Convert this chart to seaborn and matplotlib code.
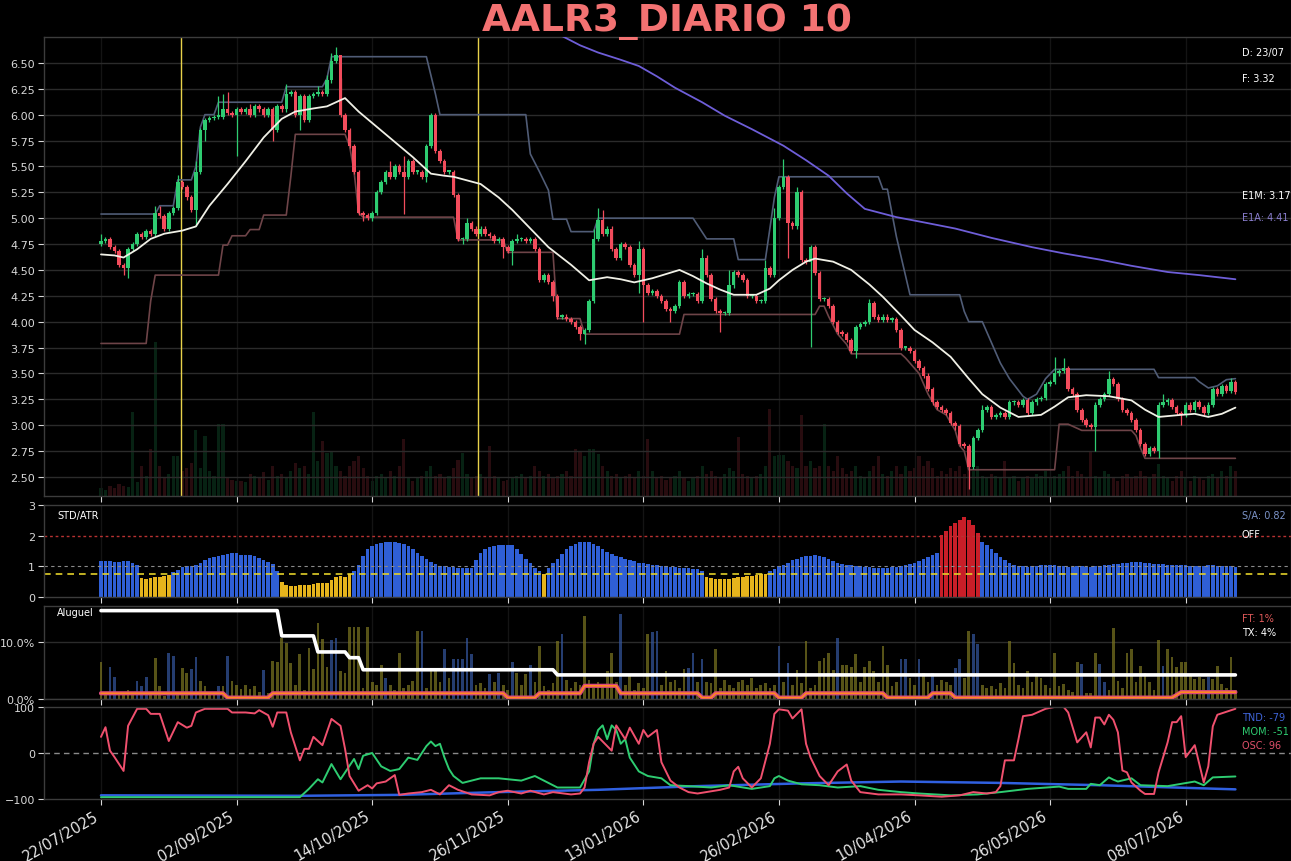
import matplotlib
matplotlib.use("Agg")
import matplotlib.pyplot as plt
import numpy as np
import seaborn as sns

# ---------------- data ----------------
# daily closes, index 0 = 22/07/2025
closes = [
    4.78, 4.80, 4.72, 4.68, 4.55, 4.52, 4.70, 4.75, 4.85, 4.82,
    4.88, 4.85, 5.05, 5.02, 4.90, 5.05, 5.10, 5.35, 5.30, 5.20,
    5.08, 5.45, 5.85, 5.95, 5.97, 5.98, 5.98, 6.05, 6.02, 6.00,
    6.05, 6.03, 6.05, 6.00, 6.08, 6.05, 6.00, 6.05, 5.85, 6.08,
    6.05, 6.20, 6.22, 6.00, 6.18, 5.95, 6.18, 6.20, 6.22, 6.20,
    6.33, 6.52, 6.58, 6.00, 5.85, 5.70, 5.45, 5.05, 5.03, 5.00,
    5.05, 5.25, 5.35, 5.45, 5.40, 5.50, 5.45, 5.40, 5.55, 5.45,
    5.45, 5.40, 5.70, 6.00, 5.65, 5.55, 5.45, 5.45, 5.22, 4.80,
    4.80, 4.95, 4.90, 4.85, 4.90, 4.85, 4.83, 4.78, 4.80, 4.72,
    4.68, 4.78, 4.80, 4.80, 4.78, 4.80, 4.70, 4.40, 4.45, 4.38,
    4.25, 4.05, 4.05, 4.03, 4.00, 3.95, 3.88, 3.92, 4.20, 4.80,
    4.98, 4.85, 4.90, 4.70, 4.62, 4.75, 4.72, 4.55, 4.45, 4.70,
    4.35, 4.28, 4.30, 4.25, 4.20, 4.12, 4.10, 4.15, 4.38, 4.25,
    4.27, 4.27, 4.20, 4.62, 4.45, 4.22, 4.10, 4.08, 4.08, 4.35,
    4.48, 4.45, 4.40, 4.25, 4.25, 4.20, 4.20, 4.52, 4.45, 5.00,
    5.30, 5.40, 4.95, 4.92, 5.25, 4.60, 4.58, 4.72, 4.47, 4.22,
    4.22, 4.15, 4.00, 3.90, 3.88, 3.82, 3.72, 3.95, 3.98, 4.00,
    4.18, 4.05, 4.02, 4.05, 4.02, 4.03, 3.92, 3.75, 3.75, 3.72,
    3.62, 3.55, 3.48, 3.35, 3.22, 3.18, 3.15, 3.12, 3.02, 2.99,
    2.82, 2.80, 2.60, 2.88, 2.95, 3.15, 3.18, 3.08, 3.10, 3.12,
    3.08, 3.22, 3.22, 3.20, 3.24, 3.12, 3.22, 3.25, 3.26, 3.40,
    3.42, 3.50, 3.52, 3.55, 3.35, 3.30, 3.15, 3.05, 3.00, 2.98,
    3.20, 3.25, 3.30, 3.45, 3.40, 3.25, 3.15, 3.12, 3.05, 2.95,
    2.82, 2.72, 2.78, 2.75, 3.20, 3.22, 3.24, 3.18, 3.12, 3.10,
    3.20, 3.15, 3.22, 3.18, 3.12, 3.20, 3.35, 3.30, 3.38, 3.33,
    3.42, 3.32,
]
first_open = 4.75
# the longer wicks that stand out
wick_hi = {0: 4.85, 12: 5.12, 13: 5.12, 17: 5.42, 21: 5.55, 26: 6.18, 27: 6.20,
           28: 6.22, 33: 6.10, 41: 6.30, 48: 6.28, 50: 6.38, 51: 6.60, 52: 6.65,
           53: 6.35, 64: 5.55, 67: 5.60, 73: 6.02, 81: 5.00, 92: 4.85, 109: 4.90,
           110: 5.10, 111: 5.08, 119: 4.78, 133: 4.70, 139: 4.50, 147: 4.60,
           149: 5.10, 151: 5.57, 154: 5.30, 170: 4.22, 195: 3.20, 211: 3.66,
           213: 3.65, 223: 3.52, 235: 3.30, 250: 3.46}
wick_lo = {5: 4.45, 6: 4.42, 21: 4.92, 23: 5.75, 30: 5.60, 38: 5.75, 44: 5.85,
           58: 4.97, 60: 4.97, 67: 5.04, 72: 5.35, 80: 4.75, 89: 4.62, 91: 4.55,
           100: 4.20, 106: 3.82, 107: 3.78, 119: 4.28, 120: 4.00, 126: 4.00,
           137: 3.90, 152: 4.62, 157: 3.76, 167: 3.65, 189: 2.95, 192: 2.38,
           220: 2.75, 234: 2.68, 239: 3.00}

volume = [
    8, 6, 10, 8, 12, 10, 9, 84, 14, 30,
    20, 47, 154, 30, 18, 22, 40, 40, 25, 28,
    33, 66, 28, 60, 25, 20, 72, 72, 18, 16,
    15, 15, 14, 22, 20, 18, 24, 16, 30, 20,
    22, 18, 25, 33, 28, 30, 22, 84, 35, 55,
    43, 45, 30, 25, 20, 30, 35, 40, 28, 20,
    15, 20, 22, 18, 25, 20, 30, 57, 18, 15,
    18, 20, 25, 30, 20, 22, 18, 20, 28, 36,
    43, 22, 18, 20, 22, 18, 50, 20, 18, 15,
    16, 18, 20, 22, 18, 20, 30, 25, 20, 22,
    18, 20, 22, 25, 20, 47, 45, 40, 47, 47,
    42, 30, 25, 20, 22, 18, 20, 22, 18, 25,
    20, 57, 25, 18, 20, 16, 18, 20, 25, 18,
    15, 18, 20, 30, 22, 25, 20, 18, 22, 28,
    25, 59, 22, 20, 18, 20, 22, 30, 87, 40,
    41, 41, 35, 30, 28, 81, 30, 35, 28, 30,
    72, 30, 25, 40, 28, 22, 25, 30, 20, 18,
    25, 30, 40, 22, 20, 25, 30, 22, 30, 25,
    28, 40, 30, 35, 28, 20, 25, 22, 28, 25,
    30, 22, 39, 25, 30, 20, 18, 22, 20, 18,
    35, 18, 20, 15, 18, 20, 18, 22, 20, 25,
    18, 20, 22, 25, 30, 20, 25, 22, 18, 45,
    20, 18, 25, 22, 18, 15, 20, 22, 18, 20,
    25, 20, 18, 22, 32, 20, 18, 15, 20, 25,
    18, 15, 20, 18, 16, 20, 22, 18, 25, 20,
    30, 25,
]

# moving averages: (day, value) points
e1m_pts = [(0, 4.65), (3, 4.64), (5, 4.62), (8, 4.70), (11, 4.80), (14, 4.85),
           (18, 4.88), (21, 4.92), (24, 5.12), (28, 5.33), (32, 5.55), (36, 5.78),
           (40, 5.96), (43, 6.03), (47, 6.06), (50, 6.08), (52, 6.12), (54, 6.16),
           (57, 6.03), (60, 5.92), (63, 5.81), (66, 5.70), (69, 5.59), (73, 5.43),
           (76, 5.41), (78, 5.40), (84, 5.33), (88, 5.20), (91, 5.08), (95, 4.90),
           (99, 4.72), (104, 4.55), (108, 4.40), (112, 4.43), (115, 4.41),
           (118, 4.38), (122, 4.42), (125, 4.46), (128, 4.50), (131, 4.44),
           (134, 4.37), (137, 4.31), (140, 4.26), (145, 4.26), (148, 4.32),
           (150, 4.40), (153, 4.50), (156, 4.58), (158, 4.61), (162, 4.58),
           (166, 4.50), (170, 4.36), (173, 4.24), (177, 4.06), (180, 3.92),
           (184, 3.80), (188, 3.66), (192, 3.45), (195, 3.30), (199, 3.17),
           (203, 3.08), (208, 3.10), (211, 3.18), (214, 3.27), (218, 3.29),
           (223, 3.28), (228, 3.24), (231, 3.15), (234, 3.08), (239, 3.10),
           (242, 3.11), (245, 3.08), (248, 3.11), (251, 3.17)]
e1a_pts = [(100, 6.85), (102, 6.76), (106, 6.67), (110, 6.60), (115, 6.53),
           (119, 6.47), (123, 6.37), (127, 6.26), (133, 6.12), (138, 5.99),
           (144, 5.86), (151, 5.70), (156, 5.56), (161, 5.41), (165, 5.24),
           (169, 5.09), (176, 5.01), (182, 4.96), (189, 4.90), (197, 4.81),
           (206, 4.72), (213, 4.66), (221, 4.60), (228, 4.54), (236, 4.48),
           (243, 4.45), (251, 4.41)]

# channel bands
upper_pts = [(0, 5.04), (12, 5.04), (13, 5.12), (16, 5.12), (17, 5.37), (20, 5.37),
             (21, 5.50), (22, 5.88), (23, 6.00), (25, 6.00), (26, 6.12), (40, 6.12),
             (41, 6.27), (49, 6.27), (50, 6.35), (51, 6.56), (72, 6.56), (74, 6.20),
             (75, 6.00), (94, 6.00), (95, 5.62), (97, 5.45), (99, 5.27), (100, 4.99),
             (103, 4.99), (104, 4.87), (109, 4.87), (110, 5.00), (131, 5.00),
             (134, 4.80), (140, 4.80), (141, 4.60), (147, 4.60), (148, 4.90),
             (149, 5.20), (150, 5.40), (172, 5.40), (173, 5.28), (174, 5.28),
             (176, 4.82), (179, 4.26), (190, 4.26), (191, 4.10), (192, 4.00),
             (195, 4.00), (197, 3.80), (199, 3.60), (201, 3.45), (204, 3.28),
             (205, 3.25), (207, 3.30), (209, 3.45), (211, 3.54), (233, 3.54),
             (234, 3.46), (242, 3.46), (243, 3.42), (245, 3.36), (247, 3.38),
             (249, 3.44), (251, 3.45)]
lower_pts = [(0, 3.79), (10, 3.79), (11, 4.20), (12, 4.45), (26, 4.45), (27, 4.74),
             (28, 4.74), (29, 4.83), (32, 4.83), (33, 4.89), (35, 4.89), (36, 5.03),
             (41, 5.03), (42, 5.40), (43, 5.81), (54, 5.81), (55, 5.70), (56, 5.45),
             (57, 5.05), (58, 5.01), (78, 5.01), (79, 4.79), (89, 4.79), (90, 4.67),
             (100, 4.67), (101, 4.03), (106, 4.03), (107, 3.88), (128, 3.88),
             (129, 4.07), (158, 4.07), (159, 4.15), (160, 4.15), (161, 4.05),
             (163, 3.88), (165, 3.78), (166, 3.69), (177, 3.69), (178, 3.65),
             (181, 3.50), (183, 3.30), (185, 3.15), (187, 3.10), (189, 2.95),
             (190, 2.80), (191, 2.75), (192, 2.57), (211, 2.57), (212, 3.01),
             (214, 3.01), (215, 2.99), (217, 2.95), (228, 2.95), (229, 2.90),
             (230, 2.78), (231, 2.68), (251, 2.68)]
signal_days = [17.7, 83.4]

# STD/ATR ratio
std_atr = [
    1.18, 1.17, 1.16, 1.15, 1.15, 1.16, 1.17, 1.12, 1.03, 0.62,
    0.60, 0.62, 0.64, 0.66, 0.70, 0.72, 0.80, 0.88, 0.98, 1.02,
    1.02, 1.05, 1.12, 1.22, 1.28, 1.30, 1.35, 1.38, 1.40, 1.45,
    1.42, 1.38, 1.36, 1.36, 1.35, 1.28, 1.20, 1.15, 1.08, 0.85,
    0.50, 0.38, 0.37, 0.37, 0.38, 0.38, 0.40, 0.42, 0.44, 0.45,
    0.47, 0.55, 0.65, 0.70, 0.65, 0.75, 0.85, 1.05, 1.35, 1.55,
    1.65, 1.72, 1.75, 1.78, 1.80, 1.78, 1.75, 1.72, 1.65, 1.55,
    1.45, 1.35, 1.25, 1.15, 1.08, 1.02, 1.00, 0.98, 0.97, 0.96,
    0.95, 0.95, 0.96, 1.20, 1.45, 1.55, 1.62, 1.66, 1.68, 1.70,
    1.70, 1.68, 1.55, 1.40, 1.25, 1.10, 0.95, 0.85, 0.75, 0.95,
    1.10, 1.25, 1.40, 1.55, 1.65, 1.72, 1.78, 1.80, 1.78, 1.72,
    1.65, 1.55, 1.48, 1.40, 1.35, 1.30, 1.25, 1.20, 1.16, 1.12,
    1.10, 1.08, 1.05, 1.03, 1.00, 1.00, 0.98, 0.97, 0.96, 0.95,
    0.94, 0.92, 0.90, 0.86, 0.65, 0.62, 0.60, 0.60, 0.58, 0.60,
    0.62, 0.64, 0.66, 0.68, 0.70, 0.72, 0.74, 0.76, 0.85, 0.92,
    1.00, 1.05, 1.12, 1.20, 1.25, 1.30, 1.33, 1.35, 1.36, 1.35,
    1.30, 1.25, 1.18, 1.12, 1.08, 1.05, 1.03, 1.00, 1.00, 0.98,
    0.97, 0.96, 0.95, 0.95, 0.96, 0.97, 0.98, 1.00, 1.03, 1.08,
    1.12, 1.18, 1.25, 1.32, 1.38, 1.45, 2.02, 2.15, 2.30, 2.42,
    2.52, 2.60, 2.50, 2.35, 2.10, 1.80, 1.70, 1.55, 1.42, 1.30,
    1.20, 1.10, 1.05, 1.00, 1.00, 0.98, 1.00, 1.02, 1.03, 1.05,
    1.05, 1.04, 1.02, 1.00, 0.98, 0.98, 1.00, 1.00, 0.99, 0.98,
    1.00, 1.02, 1.03, 1.05, 1.06, 1.08, 1.10, 1.12, 1.13, 1.14,
    1.13, 1.12, 1.10, 1.08, 1.07, 1.06, 1.05, 1.05, 1.04, 1.03,
    1.03, 1.02, 1.02, 1.01, 1.02, 1.03, 1.04, 1.02, 1.01, 1.00,
    1.00, 0.99,
]

# rent ("Aluguel") panel, in %
aluguel = [
    6.5, 1.0, 5.5, 3.9, 0.8, 1.2, 1.6, 0.8, 3.2, 2.3,
    3.9, 1.0, 7.1, 2.3, 0.6, 8.1, 7.5, 1.0, 5.4, 4.6,
    5.2, 7.3, 3.2, 2.3, 0.8, 1.0, 2.3, 2.3, 7.5, 3.2,
    2.5, 1.8, 2.5, 1.8, 2.3, 1.2, 5.0, 1.0, 6.7, 6.5,
    10.6, 9.7, 6.2, 2.5, 7.9, 1.5, 8.9, 5.3, 13.3, 10.5,
    5.5, 10.3, 10.6, 4.9, 4.5, 12.5, 12.5, 12.5, 2.0, 12.5,
    3.0, 2.5, 6.0, 3.7, 2.5, 1.5, 8.1, 2.0, 2.5, 3.1,
    11.9, 11.9, 2.0, 5.4, 5.1, 3.0, 8.7, 3.7, 6.9, 6.9,
    6.9, 10.7, 7.8, 2.5, 2.8, 2.0, 4.3, 3.0, 4.6, 2.5,
    1.5, 6.4, 4.6, 2.5, 4.3, 6.0, 3.0, 9.2, 2.2, 1.5,
    2.8, 10.1, 11.3, 3.4, 2.0, 3.0, 2.5, 14.5, 3.4, 2.0,
    3.0, 2.5, 4.9, 8.1, 3.0, 14.8, 2.5, 4.0, 1.5, 2.8,
    2.0, 11.3, 11.6, 11.9, 2.5, 4.9, 3.0, 3.4, 2.0, 5.3,
    5.4, 8.1, 3.0, 6.9, 3.0, 2.8, 8.7, 2.0, 3.4, 2.5,
    2.0, 3.0, 3.4, 2.5, 3.7, 2.0, 2.5, 2.8, 2.0, 2.5,
    9.2, 3.0, 6.3, 2.5, 5.1, 2.8, 10.1, 2.0, 2.5, 6.6,
    7.2, 8.1, 5.1, 10.7, 6.0, 6.0, 5.6, 7.8, 3.0, 5.6,
    6.6, 4.9, 3.0, 9.2, 6.0, 2.2, 3.0, 6.9, 6.9, 3.7,
    2.5, 6.9, 4.6, 3.0, 4.6, 2.5, 3.4, 3.0, 2.5, 5.4,
    6.9, 3.7, 11.9, 11.3, 9.5, 2.5, 2.0, 2.2, 1.8, 2.8,
    2.0, 10.1, 6.3, 2.5, 2.0, 4.9, 3.0, 4.6, 3.7, 2.5,
    2.0, 8.1, 2.3, 2.6, 1.5, 1.2, 6.4, 6.1, 1.0, 1.0,
    8.1, 6.1, 2.9, 1.5, 12.3, 3.2, 2.0, 8.1, 8.8, 2.9,
    5.8, 4.5, 2.9, 1.5, 10.2, 5.8, 8.8, 7.4, 5.6, 6.4,
    6.4, 4.2, 3.5, 3.8, 3.5, 3.8, 3.5, 5.8, 2.6, 2.0,
    7.4, 1.5,
]
aluguel_blue = [2, 3, 8, 9, 10, 15, 16, 20, 21, 26, 28, 36, 51, 52, 63, 71, 76, 78,
                79, 80, 81, 82, 86, 88, 91, 95, 102, 115, 122, 123, 130, 131, 133,
                150, 152, 163, 177, 178, 181, 184, 189, 190, 193, 194, 217, 221,
                222, 235, 245]
tx_pts = [(0, 15.4), (39, 15.4), (40, 11.0), (47, 11.0), (48, 8.2), (54, 8.2),
          (55, 7.2), (57, 7.2), (58, 5.1), (100, 5.1), (101, 4.2), (251, 4.2)]
ft_pts = [(0, 1.0), (27, 1.0), (28, 0.25), (37, 0.25), (38, 1.0), (89, 1.0),
          (90, 0.25), (96, 0.25), (97, 1.0), (106, 1.0), (107, 2.3), (114, 2.3),
          (115, 1.0), (132, 1.0), (133, 0.25), (135, 0.25), (136, 1.0), (149, 1.0),
          (150, 0.25), (155, 0.25), (156, 1.0), (173, 1.0), (174, 0.25), (183, 0.25),
          (184, 1.0), (188, 1.0), (189, 0.25), (237, 0.25), (239, 1.2), (251, 1.2)]

# oscillators
osc_pts = [(0, 35), (1, 56), (2, 5), (3, -9), (5, -39), (6, 59), (8, 96), (10, 96),
           (11, 85), (13, 85), (15, 26), (17, 67), (19, 55), (20, 59), (21, 88),
           (23, 96), (28, 96), (29, 88), (32, 88), (34, 86), (35, 93), (37, 82),
           (38, 57), (39, 88), (41, 88), (42, 45), (44, -16), (45, 9), (46, 9),
           (47, 35), (49, 17), (51, 74), (53, 59), (54, 9), (55, -50), (57, -82),
           (59, -70), (60, -77), (61, -66), (63, -62), (65, -48), (66, -91),
           (68, -88), (71, -85), (73, -80), (75, -90), (77, -70), (79, -80),
           (82, -90), (86, -92), (88, -85), (90, -82), (93, -88), (95, -82),
           (98, -90), (100, -85), (104, -90), (106, -88), (107, -75), (108, -20),
           (109, 20), (110, 35), (111, 25), (113, 5), (114, 60), (116, 30),
           (117, 55), (119, 20), (120, 50), (121, 35), (123, 50), (124, -20),
           (126, -60), (128, -75), (130, -85), (132, -88), (137, -80), (139, -75),
           (140, -40), (141, -30), (142, -55), (144, -75), (146, -55), (148, 20),
           (149, 85), (150, 95), (152, 92), (153, 75), (155, 95), (156, 20),
           (157, -10), (158, -30), (159, -50), (161, -70), (163, -40), (165, -25),
           (166, -60), (168, -85), (172, -90), (177, -90), (181, -92), (186, -95),
           (190, -92), (193, -85), (196, -88), (198, -85), (199, -72), (200, -16),
           (202, -16), (203, 30), (204, 80), (206, 83), (209, 96), (211, 100),
           (213, 100), (214, 88), (216, 23), (218, 45), (219, 12), (220, 77),
           (221, 77), (222, 62), (223, 83), (224, 72), (225, 45), (226, -38),
           (227, -42), (228, -64), (230, -82), (231, -89), (233, -89), (234, -42),
           (236, 23), (237, 67), (238, 67), (239, 80), (240, -9), (242, 17),
           (244, -64), (245, -29), (246, 58), (247, 83), (251, 96)]
mom_pts = [(0, -96), (44, -96), (46, -78), (48, -57), (49, -64), (51, -24),
           (53, -57), (56, -13), (57, -35), (58, -6), (60, 0), (62, -29), (64, -39),
           (66, -35), (68, -10), (70, -15), (72, 15), (73, 25), (74, 15), (75, 20),
           (76, -10), (77, -35), (78, -50), (80, -65), (84, -55), (88, -55),
           (93, -60), (96, -50), (98, -60), (101, -75), (106, -75), (108, -40),
           (109, 20), (110, 50), (111, 60), (112, 30), (113, 60), (114, 50),
           (115, 20), (116, 30), (117, -10), (119, -40), (121, -50), (124, -55),
           (126, -70), (130, -72), (135, -75), (139, -70), (144, -78), (148, -72),
           (149, -55), (150, -50), (152, -60), (155, -68), (159, -70), (163, -75),
           (168, -72), (172, -80), (177, -85), (181, -88), (188, -92), (194, -90),
           (199, -85), (205, -78), (212, -73), (214, -78), (218, -78), (219, -67),
           (221, -70), (223, -53), (224, -58), (225, -62), (228, -55), (230, -70),
           (236, -72), (239, -67), (242, -62), (244, -70), (246, -53), (251, -51)]
tnd_pts = [(0, -92), (44, -93), (66, -91), (88, -85), (110, -80), (132, -72),
           (155, -66), (177, -62), (199, -65), (221, -70), (251, -79)]

tick_pos = [0, 30, 60, 90, 120, 150, 180, 210, 240]
tick_labels = ['22/07/2025', '02/09/2025', '14/10/2025', '26/11/2025', '13/01/2026',
               '26/02/2026', '10/04/2026', '26/05/2026', '08/07/2026']


def xy(pts):
    return [p[0] for p in pts], [p[1] for p in pts]


# ---------------- plotting ----------------
sns.set_theme(style="dark")
plt.rcParams['font.family'] = ['DejaVu Sans']

BG = '#000000'
GRID = '#2b2b2b'
TXT = '#d8d8d8'
GREEN = '#2ecc71'
RED = '#f24c5c'
FS = 7

fig = plt.figure(figsize=(12.91, 8.62), dpi=100, facecolor=BG)
L, W = 0.0341, 0.9659
ax = fig.add_axes([L, 0.4234, W, 0.5325])
ax_std = fig.add_axes([L, 0.3063, W, 0.1067], sharex=ax)
ax_alu = fig.add_axes([L, 0.1879, W, 0.1079], sharex=ax)
ax_osc = fig.add_axes([L, 0.0719, W, 0.1068], sharex=ax)

n = len(closes)
x = np.arange(n)
c = np.array(closes)
o = np.array([first_open] + closes[:-1])
up = c >= o
colors = np.where(up, GREEN, RED)

# volume on a hidden twin axis, behind the candles
axv = ax.twinx()
axv.bar(x, volume, width=0.7, color=colors, alpha=0.17, linewidth=0)
axv.set_ylim(0, 459)
axv.set_yticks([])
axv.set_facecolor(BG)
for s in axv.spines.values():
    s.set_visible(False)
ax.set_zorder(axv.get_zorder() + 1)
ax.patch.set_visible(False)

# candles
hi = np.maximum(o, c) + 0.02
lo = np.minimum(o, c) - 0.02
for k, v in wick_hi.items():
    hi[k] = v
for k, v in wick_lo.items():
    lo[k] = v
ax.vlines(x, lo, hi, colors=colors, linewidth=0.9, zorder=3)
body = np.maximum(np.abs(c - o), 0.012)
ax.bar(x, body, bottom=np.minimum(o, c), width=0.78, color=colors, linewidth=0, zorder=4)

for pts, col, lw, z in [(upper_pts, '#505c76', 1.2, 2), (lower_pts, '#6e4448', 1.2, 2),
                        (e1a_pts, '#6e5ed8', 1.3, 5), (e1m_pts, '#f0f0e6', 1.3, 5)]:
    px, py = xy(pts)
    sns.lineplot(x=px, y=py, ax=ax, color=col, linewidth=lw, zorder=z)
for d in signal_days:
    ax.axvline(d, color='#e8d24a', linewidth=1.0, zorder=1)

ax.set_ylim(2.316, 6.75)
yt = np.arange(2.5, 6.51, 0.25)
ax.set_yticks(yt)
ax.set_yticklabels([f'{v:.2f}' for v in yt])
ax.set_xlim(-12.6, 263.3)

tx = 252.4
ax.text(tx, 6.61, 'D: 23/07', color='white', fontsize=FS, va='center')
ax.text(tx, 6.35, 'F: 3.32', color='white', fontsize=FS, va='center')
ax.text(tx, 5.22, 'E1M: 3.17', color='white', fontsize=FS, va='center')
ax.text(tx, 5.01, 'E1A: 4.41', color='#8b7fd0', fontsize=FS, va='center')

# STD/ATR panel
std = np.array(std_atr)
std_colors = np.where(std >= 2.0, '#c81e28', np.where(std < 0.78, '#e6b41c', '#2f5fd6'))
ax_std.bar(x, std, width=0.8, color=std_colors, linewidth=0)
ax_std.axhline(2.0, color='#b83232', linewidth=1.0, linestyle=(0, (2, 2)))
ax_std.axhline(1.0, color='#8a8a8a', linewidth=0.8, linestyle=(0, (3, 3)))
ax_std.axhline(0.75, color='#e2d02a', linewidth=1.2, linestyle=(0, (4, 3)))
ax_std.set_ylim(0, 3)
ax_std.set_yticks([0, 1, 2, 3])
ax_std.text(-9.7, 2.67, 'STD/ATR', color='white', fontsize=FS, va='center')
ax_std.text(tx, 2.67, 'S/A: 0.82', color='#7b93c8', fontsize=FS, va='center')
ax_std.text(tx, 2.05, 'OFF', color='white', fontsize=FS, va='center')

# Aluguel panel
alu_colors = ['#34559c' if i in aluguel_blue else '#7a7420' for i in range(n)]
ax_alu.bar(x, aluguel, width=0.6, color=alu_colors, alpha=0.72, linewidth=0)
px, py = xy(tx_pts)
sns.lineplot(x=px, y=py, ax=ax_alu, color='white', linewidth=2.6, zorder=4)
px, py = xy(ft_pts)
sns.lineplot(x=px, y=py, ax=ax_alu, color='#d9477e', linewidth=3.0, zorder=4)
sns.lineplot(x=px, y=py, ax=ax_alu, color='#ff8a1e', linewidth=1.2, zorder=5)
ax_alu.set_ylim(0, 16.2)
ax_alu.set_yticks([0, 10])
ax_alu.set_yticklabels(['0.0%', '10.0%'])
ax_alu.text(-9.7, 15.1, 'Aluguel', color='white', fontsize=FS, va='center')
ax_alu.text(tx, 14.2, 'FT: 1%', color='#e05a5a', fontsize=FS, va='center')
ax_alu.text(tx, 11.75, 'TX: 4%', color='white', fontsize=FS, va='center')

# oscillator panel
ax_osc.axhline(0, color='#8a8a8a', linewidth=1.0, linestyle=(0, (4, 3)))
for pts, col, lw in [(tnd_pts, '#3060e0', 1.8), (mom_pts, '#2ecc71', 1.4),
                     (osc_pts, '#f0506e', 1.4)]:
    px, py = xy(pts)
    sns.lineplot(x=px, y=py, ax=ax_osc, color=col, linewidth=lw)
ax_osc.set_ylim(-100, 100)
ax_osc.set_yticks([-100, 0, 100])
ax_osc.text(tx, 78, 'TND: -79', color='#3f64d8', fontsize=FS, va='center')
ax_osc.text(tx, 48, 'MOM: -51', color='#2ecc71', fontsize=FS, va='center')
ax_osc.text(tx, 17, 'OSC: 96', color='#e0506a', fontsize=FS, va='center')

for a in (ax, ax_std, ax_alu, ax_osc):
    if a is not ax:
        a.set_facecolor(BG)
    a.set_xlabel('')
    a.set_ylabel('')
    for s in a.spines.values():
        s.set_color('#3c3c3c')
        s.set_linewidth(1.0)
    a.tick_params(axis='both', colors=TXT, labelsize=8, length=4, width=0.8,
                  left=True, bottom=True, direction='out', pad=2.5)
    a.grid(True, axis='y', color=GRID, linewidth=1.0)
    a.grid(True, axis='x', color='#141414', linewidth=1.0)
    a.set_xticks(tick_pos)
    if a is not ax_osc:
        a.tick_params(axis='x', labelbottom=False)

ax_std.grid(False, axis='y')
ax_osc.grid(False, axis='y')
ax_osc.set_xticklabels(tick_labels, rotation=30, ha='right', fontsize=10.5, color='#e6e6e6')

fig.text(0.5167, 1 - 31 / 862, 'AALR3_DIARIO 10', ha='center', va='baseline',
         fontsize=27, fontweight='bold', color='#f37272')

fig.savefig('out.png', dpi=100, facecolor=BG)
